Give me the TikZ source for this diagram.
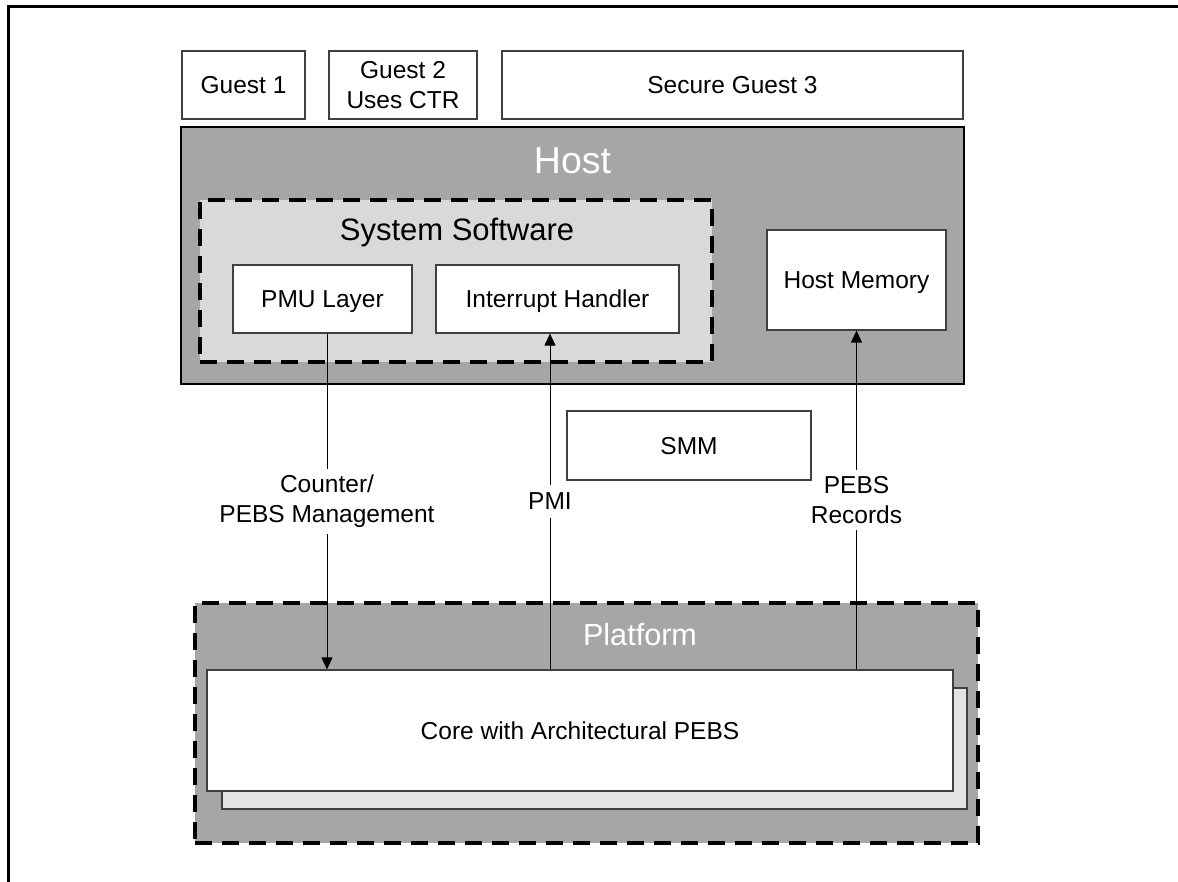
\documentclass[tikz,border=0pt]{standalone}
\usepackage{fontspec}
\setmainfont{Liberation Sans}
\usetikzlibrary{arrows.meta}
\definecolor{hostgray}{RGB}{166,166,166}
\definecolor{swgray}{RGB}{217,217,217}
\definecolor{shadowgray}{RGB}{227,227,227}
\definecolor{edgegray}{RGB}{64,64,64}
\begin{document}
\begin{tikzpicture}[x=1pt,y=-1pt,
  every node/.style={font=\fontsize{24.5}{30}\selectfont, align=center, inner sep=0pt},
  box/.style={draw=edgegray, line width=1.2pt, fill=white},
  dashbox/.style={draw=black, line width=3.5pt, dash pattern=on 17pt off 10pt},
  conn/.style={line width=1pt, draw=black},
  arr/.style={conn, -{Triangle[length=12pt,width=11pt]}},
  lab/.style={fill=white, inner xsep=2pt, inner ysep=6pt}]
\path[use as bounding box] (0,0) rectangle (1178,881);
\draw[line width=3pt] (8,885) -- (8,6.5) -- (1182,6.5);
% guests
\node[box, minimum width=123pt, minimum height=68pt, text depth=0pt] (g1) at (243.5,85) {Guest 1};
\node[box, minimum width=148pt, minimum height=68pt] (g2) at (403,85) {Guest 2\\Uses CTR};
\node[box, minimum width=461pt, minimum height=68pt, text depth=0pt] (g3) at (732.5,85) {Secure Guest 3};
% host
\node[draw=black, line width=2.7pt, fill=hostgray, minimum width=783pt, minimum height=257pt] (host) at (572.5,255.5) {};
\node[font=\fontsize{37.5}{40}\selectfont, text=white, text depth=0pt] (hosttitle) at (572.5,161) {Host};
\node[dashbox, fill=swgray, minimum width=512pt, minimum height=162pt] (sw) at (456,281) {};
\node[font=\fontsize{31}{34}\selectfont, text depth=0pt] (swtitle) at (457,229) {System Software};
\node[box, minimum width=179pt, minimum height=68pt, text depth=0pt] (pmu) at (322.5,299) {PMU Layer};
\node[box, minimum width=243pt, minimum height=68pt, text depth=0pt] (ih) at (557.5,299) {Interrupt Handler};
\node[box, minimum width=179pt, minimum height=100pt, text depth=0pt] (hm) at (856.5,280) {Host Memory};
% platform
\node[dashbox, fill=hostgray, minimum width=783pt, minimum height=240pt] (plat) at (586.5,723) {};
\node[font=\fontsize{30.6}{34}\selectfont, text=white, text depth=0pt] (plattitle) at (640,634) {Platform};
\node[draw=edgegray, line width=1.2pt, fill=shadowgray, minimum width=745pt, minimum height=121pt] (shadow) at (594.5,748.5) {};
\node[box, minimum width=746pt, minimum height=121pt, text depth=0pt] (core) at (580,730.5) {Core with Architectural PEBS};
% connectors
\draw[arr] ([xshift=4.5pt]pmu.south) -- node[lab] (lcnt) {Counter/\\PEBS Management} ([xshift=4.5pt]pmu.south |- core.north);
\draw[arr] ([xshift=-7.5pt]ih.south |- core.north) -- node[lab, inner ysep=8pt] (lpmi) {PMI} ([xshift=-7.5pt]ih.south);
\draw[arr] (hm.south |- core.north) -- node[lab] (lpebs) {PEBS\\Records} (hm.south);
% SMM
\node[box, minimum width=244pt, minimum height=69pt, text depth=0pt] (smm) at (689,445.5) {SMM};
\end{tikzpicture}
\end{document}
